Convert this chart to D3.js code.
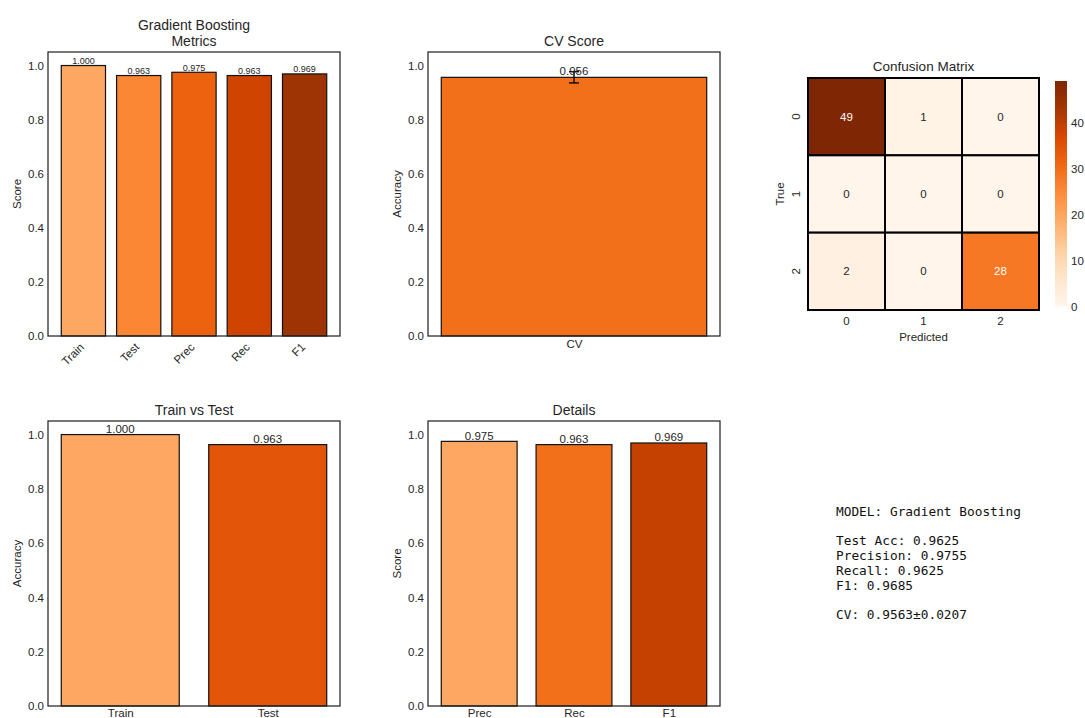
<!DOCTYPE html>
<html>
<head>
<meta charset="utf-8">
<script src="https://cdn.jsdelivr.net/npm/d3@7"></script>
<style>
  body { margin: 0; background: #fff; }
  svg text { font-family: "Liberation Sans", Arial, sans-serif; fill: #262626; }
  svg text.mono { font-family: "DejaVu Sans Mono", monospace; fill: #111; }
</style>
</head>
<body>
<svg id="fig" width="1085" height="718"></svg>
<script>
// ---- data ----
const modelName = "Gradient Boosting";
const metricLabels = ["Train", "Test", "Prec", "Rec", "F1"];
const metricValues = [1.000, 0.963, 0.975, 0.963, 0.969];
const cvLabels = ["CV"];
const cvMean = [0.9563];
const cvStd = [0.0207];
const splitLabels = ["Train", "Test"];
const splitValues = [1.000, 0.963];
const detailLabels = ["Prec", "Rec", "F1"];
const detailValues = [0.975, 0.963, 0.969];
const cmClasses = ["0", "1", "2"];
const cmValues = [[49, 1, 0], [0, 0, 0], [2, 0, 28]];
const yTicks = [0, 0.2, 0.4, 0.6, 0.8, 1.0];
const cbTicks = [0, 10, 20, 30, 40];
const summaryLines = [
  "MODEL: Gradient Boosting",
  "",
  "Test Acc: 0.9625",
  "Precision: 0.9755",
  "Recall: 0.9625",
  "F1: 0.9685",
  "",
  "CV: 0.9563\u00b10.0207"
];

// ---- Oranges colormap (ColorBrewer stops, linear RGB between them) ----
const orangeStops = ["#fff5eb", "#fee6ce", "#fdd0a2", "#fdae6b", "#fd8d3c",
                     "#f16913", "#d94801", "#a63603", "#7f2704"];
const oranges = d3.scaleLinear()
  .domain(d3.range(orangeStops.length).map(i => i / (orangeStops.length - 1)))
  .range(orangeStops)
  .interpolate(d3.interpolateRgb)
  .clamp(true);
const spread = (a, b, n) => d3.range(n).map(i => oranges(n === 1 ? a : a + (b - a) * i / (n - 1)));

const svg = d3.select("#fig");
const INK = "#262626";

function barPanel(o) {
  const { x0, x1, y0, y1 } = o.box;
  const n = o.labels.length;
  const margin = 0.05 * (n - 1 + 0.8);
  const x = d3.scaleLinear().domain([-0.4 - margin, n - 1 + 0.4 + margin]).range([x0, x1]);
  const y = d3.scaleLinear().domain([0, 1.05]).range([y1, y0]);
  const g = svg.append("g");

  // bars
  g.selectAll("rect.bar").data(o.values).join("rect")
    .attr("class", "bar")
    .attr("x", (d, i) => x(i - 0.4))
    .attr("width", x(0.8) - x(0))
    .attr("y", d => y(d))
    .attr("height", d => y(0) - y(d))
    .attr("fill", (d, i) => o.colors[i])
    .attr("stroke", "#111")
    .attr("stroke-width", 1.2);

  // error bars
  if (o.err) {
    o.values.forEach((v, i) => {
      const e = o.err[i];
      const cx = x(i);
      g.append("line").attr("x1", cx).attr("x2", cx).attr("y1", y(v - e)).attr("y2", y(v + e))
        .attr("stroke", "#111").attr("stroke-width", 1.5);
      [v - e, v + e].forEach(t => g.append("line")
        .attr("x1", cx - 5).attr("x2", cx + 5).attr("y1", y(t)).attr("y2", y(t))
        .attr("stroke", "#111").attr("stroke-width", 1.5));
    });
  }

  // value labels
  g.selectAll("text.val").data(o.values).join("text")
    .attr("class", "val")
    .attr("x", (d, i) => x(i))
    .attr("y", d => y(d) - o.valOffset)
    .attr("text-anchor", "middle")
    .style("font-size", o.valSize + "px")
    .text(d => d3.format(".3f")(d));

  // y axis
  const ya = g.append("g").attr("transform", `translate(${x0},0)`)
    .call(d3.axisLeft(y).tickValues(yTicks).tickSize(0).tickPadding(4).tickFormat(d3.format(".1f")));
  ya.select(".domain").remove();
  ya.selectAll("text").style("font-size", "11.5px").attr("fill", INK);

  // x axis
  const xa = g.append("g").attr("transform", `translate(0,${y1})`)
    .call(d3.axisBottom(x).tickValues(d3.range(n)).tickSize(0).tickPadding(o.xPad).tickFormat(i => o.labels[i]));
  xa.select(".domain").remove();
  xa.selectAll("text").style("font-size", "11.5px").attr("fill", INK);
  if (o.rotate) {
    xa.selectAll("text")
      .attr("y", 0).attr("dy", "0.35em")
      .attr("text-anchor", "end")
      .attr("transform", "translate(-2,9) rotate(-45)");
  }

  // frame
  g.append("rect").attr("x", x0).attr("y", y0).attr("width", x1 - x0).attr("height", y1 - y0)
    .attr("fill", "none").attr("stroke", INK).attr("stroke-width", 1.25);

  // y label
  g.append("text")
    .attr("transform", `translate(${o.ylabelX},${(y0 + y1) / 2}) rotate(-90)`)
    .attr("text-anchor", "middle").attr("dy", "0.35em")
    .style("font-size", "11.5px").text(o.ylabel);

  // title
  o.title.forEach((t, k) => g.append("text")
    .attr("x", (x0 + x1) / 2).attr("y", o.titleY + k * 15.5)
    .attr("text-anchor", "middle").style("font-size", "14px").text(t));
}

// panel 1: all metrics
barPanel({
  box: { x0: 48, x1: 340, y0: 52, y1: 336 },
  labels: metricLabels, values: metricValues, colors: spread(0.4, 0.9, metricLabels.length),
  ylabel: "Score", ylabelX: 17, title: [modelName, "Metrics"], titleY: 30,
  valSize: 9, valOffset: 1.5, rotate: true, xPad: 4
});

// panel 2: cross-validation
barPanel({
  box: { x0: 428, x1: 720, y0: 52, y1: 336 },
  labels: cvLabels, values: cvMean, err: cvStd, colors: spread(0.6, 0.6, 1),
  ylabel: "Accuracy", ylabelX: 397, title: ["CV Score"], titleY: 45.5,
  valSize: 11.5, valOffset: 2.5, rotate: false, xPad: 4
});

// panel 4: train vs test
barPanel({
  box: { x0: 48, x1: 340, y0: 421, y1: 706 },
  labels: splitLabels, values: splitValues, colors: spread(0.4, 0.7, splitLabels.length),
  ylabel: "Accuracy", ylabelX: 17, title: ["Train vs Test"], titleY: 415,
  valSize: 11.5, valOffset: 1.5, rotate: false, xPad: 3
});

// panel 5: details
barPanel({
  box: { x0: 428, x1: 720, y0: 421, y1: 706 },
  labels: detailLabels, values: detailValues, colors: spread(0.4, 0.8, detailLabels.length),
  ylabel: "Score", ylabelX: 397, title: ["Details"], titleY: 415,
  valSize: 11.5, valOffset: 1.5, rotate: false, xPad: 3
});

// panel 3: confusion matrix heatmap
(function () {
  const cx0 = 808, cx1 = 1039, cy0 = 78, cy1 = 310;
  const vmax = d3.max(cmValues.flat());
  const color = v => oranges(v / vmax);
  const bx = d3.scaleBand().domain(cmClasses).range([cx0, cx1]);
  const by = d3.scaleBand().domain(cmClasses).range([cy0, cy1]);
  const g = svg.append("g");
  const cells = cmValues.flatMap((row, r) => row.map((v, c) => ({ r, c, v })));
  g.selectAll("rect.cell").data(cells).join("rect")
    .attr("x", d => bx(cmClasses[d.c])).attr("y", d => by(cmClasses[d.r]))
    .attr("width", bx.bandwidth()).attr("height", by.bandwidth())
    .attr("fill", d => color(d.v)).attr("stroke", "#000").attr("stroke-width", 2);
  g.selectAll("text.ann").data(cells).join("text")
    .attr("x", d => bx(cmClasses[d.c]) + bx.bandwidth() / 2)
    .attr("y", d => by(cmClasses[d.r]) + by.bandwidth() / 2)
    .attr("dy", "0.35em").attr("text-anchor", "middle")
    .style("font-size", "11.5px")
    .style("fill", d => d.v / vmax > 0.5 ? "#fff" : "#262626")
    .text(d => d.v);

  cmClasses.forEach(k => {
    g.append("text").attr("x", bx(k) + bx.bandwidth() / 2).attr("y", 325)
      .attr("text-anchor", "middle").style("font-size", "11.5px").text(k);
    g.append("text")
      .attr("transform", `translate(796,${by(k) + by.bandwidth() / 2}) rotate(-90)`)
      .attr("text-anchor", "middle").attr("dy", "0.35em").style("font-size", "11.5px").text(k);
  });
  g.append("text").attr("x", (cx0 + cx1) / 2).attr("y", 340.5)
    .attr("text-anchor", "middle").style("font-size", "11.5px").text("Predicted");
  g.append("text").attr("transform", `translate(780,${(cy0 + cy1) / 2}) rotate(-90)`)
    .attr("text-anchor", "middle").attr("dy", "0.35em").style("font-size", "11.5px").text("True");
  g.append("text").attr("x", (cx0 + cx1) / 2).attr("y", 70.5)
    .attr("text-anchor", "middle").style("font-size", "13.5px").text("Confusion Matrix");

  // colorbar
  const bX = 1055, bW = 12, bTop = 81, bBot = 306.5;
  const cb = d3.scaleLinear().domain([0, vmax]).range([bBot, bTop]);
  const grad = svg.append("defs").append("linearGradient").attr("id", "cbGrad")
    .attr("x1", 0).attr("y1", 1).attr("x2", 0).attr("y2", 0);
  d3.range(0, 1.0001, 0.05).forEach(t => grad.append("stop")
    .attr("offset", t).attr("stop-color", oranges(t)));
  g.append("rect").attr("x", bX).attr("y", bTop).attr("width", bW).attr("height", bBot - bTop)
    .attr("fill", "url(#cbGrad)");
  const ca = g.append("g").attr("transform", `translate(${bX + bW},0)`)
    .call(d3.axisRight(cb).tickValues(cbTicks).tickSize(0).tickPadding(4));
  ca.select(".domain").remove();
  ca.selectAll("text").style("font-size", "11.5px").attr("fill", INK);
})();

// summary text block
svg.append("g").selectAll("text").data(summaryLines).join("text")
  .attr("class", "mono")
  .attr("x", 836)
  .attr("y", (d, i) => 516 + i * 14.7)
  .style("font-size", "12.8px")
  .style("white-space", "pre")
  .text(d => d);
</script>
</body>
</html>
